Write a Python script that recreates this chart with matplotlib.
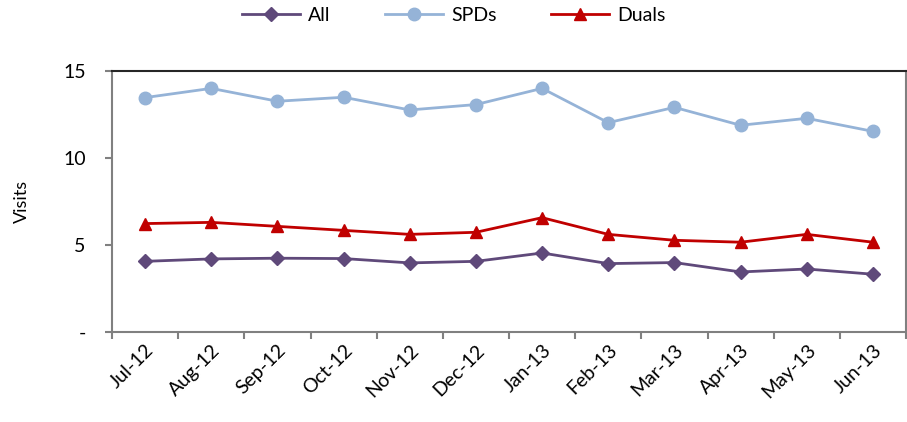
import matplotlib
matplotlib.use("Agg")
import matplotlib.pyplot as plt
import numpy as np

plt.rcParams['font.family'] = ['Lato', 'DejaVu Sans']

# data
months = ['Jul-12', 'Aug-12', 'Sep-12', 'Oct-12', 'Nov-12', 'Dec-12',
          'Jan-13', 'Feb-13', 'Mar-13', 'Apr-13', 'May-13', 'Jun-13']
all_visits = [4.06, 4.20, 4.24, 4.22, 3.97, 4.06, 4.54, 3.93, 3.99, 3.45, 3.62, 3.32]
spds = [13.47, 14.0, 13.26, 13.49, 12.76, 13.07, 14.0, 12.03, 12.91, 11.88, 12.28, 11.53]
duals = [6.23, 6.30, 6.07, 5.84, 5.61, 5.73, 6.57, 5.61, 5.27, 5.16, 5.61, 5.16]

fig = plt.figure(figsize=(9.07, 4.22), dpi=100)
ax = fig.add_axes([0.1235, 0.2133, 0.8754, 0.6185])

x = np.arange(len(months))
ax.plot(x, all_visits, color='#5F497A', marker='D', markersize=7, lw=2, label='All')
ax.plot(x, spds, color='#95B3D7', marker='o', markersize=9, lw=2, label='SPDs')
ax.plot(x, duals, color='#C00000', marker='^', markersize=9, lw=2, label='Duals')

ax.set_xlim(-0.5, len(months) - 0.5)
ax.set_ylim(0, 15)
ax.set_yticks([0, 5, 10, 15])
ax.set_yticklabels(['-', '5', '10', '15'], fontsize=14)
ax.set_xticks(np.append(x - 0.5, len(months) - 0.5))
ax.set_xticklabels([])
for i, m in enumerate(months):
    ax.text(i + 0.0, -0.55, m, rotation=45, ha='right', va='top',
            rotation_mode='anchor', fontsize=14, transform=ax.transData)

ax.set_ylabel('Visits', fontsize=13, labelpad=24)
ax.tick_params(axis='both', direction='out', length=5, color='#808080', width=1.5)
ax.tick_params(axis='y', pad=14)

for s in ['left', 'bottom', 'right']:
    ax.spines[s].set_color('#808080')
    ax.spines[s].set_linewidth(1.5)
ax.spines['top'].set_color('#262626')
ax.spines['top'].set_linewidth(1.5)

fig.legend(loc='upper center', bbox_to_anchor=(0.5, 1.025), ncol=3, frameon=False,
           fontsize=14, handlelength=3, columnspacing=2.8, handletextpad=0.4)

fig.savefig('out.png', dpi=100)
